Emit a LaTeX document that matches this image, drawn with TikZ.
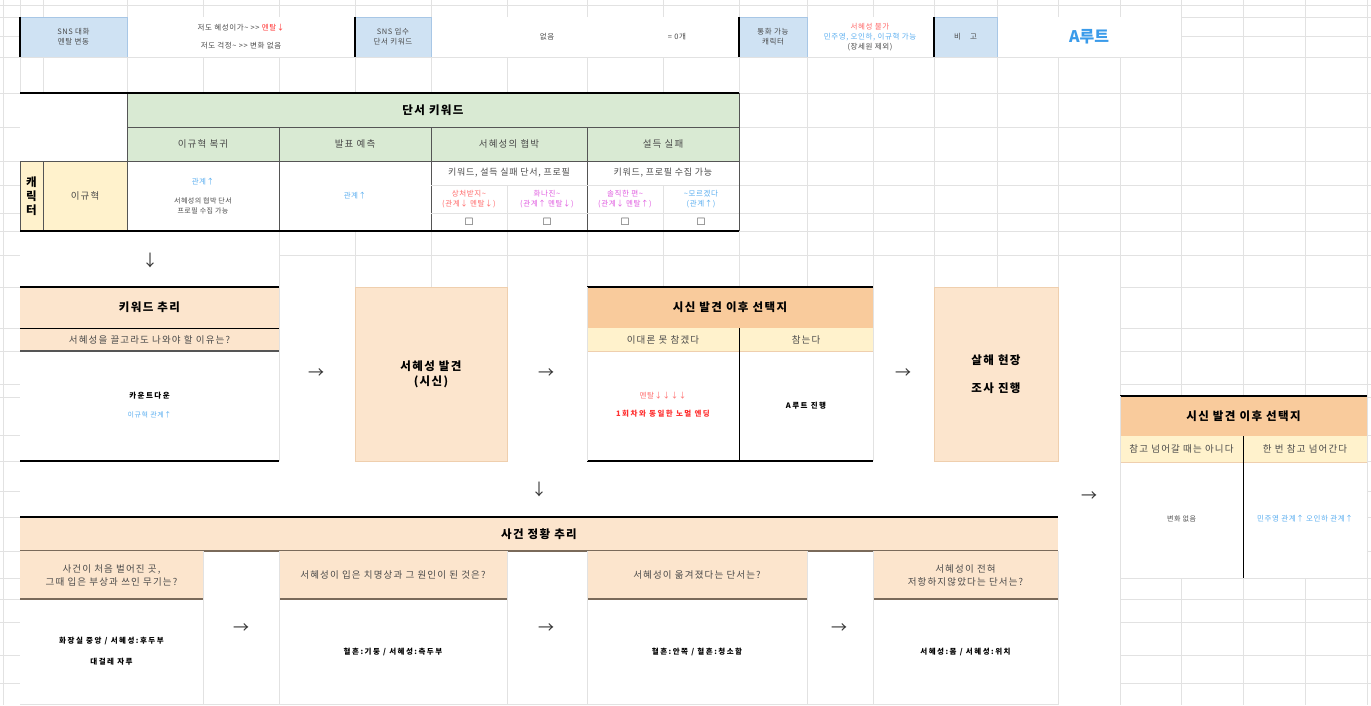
\documentclass[tikz,border=0pt]{standalone}
\usepackage{fontspec}
\setmainfont{Noto Sans CJK KR}
\newfontfamily\symfont{DejaVu Sans}
\definecolor{gridgray}{HTML}{E2E2E2}
\definecolor{hdrblue}{HTML}{CFE2F3}
\definecolor{hdrline}{HTML}{A8C7E6}
\definecolor{leafgreen}{HTML}{D9EAD3}
\definecolor{peach}{HTML}{FCE5CD}
\definecolor{peachline}{HTML}{EFCFAE}
\definecolor{apricot}{HTML}{F9CB9C}
\definecolor{lemon}{HTML}{FFF2CC}
\definecolor{rulegray}{HTML}{555555}
\definecolor{brownrule}{HTML}{7A6A5A}
\definecolor{txtgray}{HTML}{4A4A4A}
\definecolor{relblue}{HTML}{5AAEF0}
\definecolor{routeblue}{HTML}{3A9BEA}
\definecolor{mred}{HTML}{FF3030}
\definecolor{softred}{HTML}{FF6A6A}
\definecolor{pinkish}{HTML}{E05CE0}
\definecolor{arrowgray}{HTML}{333333}
\usetikzlibrary{positioning}

\begin{document}
\begin{tikzpicture}[x=1pt,y=-1pt,
	gridline/.style={draw=gridgray,line width=0.6pt},
	boldrule/.style={draw=black,line width=1.6pt},
	darkrule/.style={draw=rulegray,line width=1pt},
	small/.style={align=center,inner sep=1pt,font=\fontsize{7.5}{10}\selectfont\addfontfeature{LetterSpace=8},text=txtgray},
	mid/.style={align=center,inner sep=1pt,font=\fontsize{9.5}{13}\selectfont\addfontfeature{LetterSpace=12},text=txtgray},
	head/.style={align=center,inner sep=1pt,font=\fontsize{11.5}{15}\selectfont\bfseries\addfontfeature{LetterSpace=12}},
	answer/.style={align=center,inner sep=1pt,font=\fontsize{7.5}{10}\selectfont\bfseries\addfontfeature{LetterSpace=20}},
	flow/.style={inner sep=0pt,font=\fontsize{16}{16}\selectfont,text=arrowgray}]
	\useasboundingbox (0,0) rectangle (1371,705);
	\fill[white] (0,0) rectangle (1371,705);
	\foreach \x in {3,20,43,127,203,279,355,431,507,587,663,739,807,873,934,997,1058,1120,1181,1243,1305,1367}
		\draw[gridline] (\x,0) -- (\x,705);
	\foreach \y in {5,17,36,57,93,127,161,185,213,231,255,287,328,351,384,397,435,461,491,517,551,578,599,622,655,683}
		\draw[gridline] (0,\y) -- (1371,\y);
	
	\fill[white] (20,17) rectangle (1181,57);
	\fill[white] (20,93) rectangle (739,231);
	\fill[white] (20,231) rectangle (279,287);
	\fill[white] (20,287) rectangle (1120,705);
	\fill[white] (1120,396) rectangle (1367,578);
	
	% top strip
	\foreach \a/\b in {20/127,355/431,739/807,934/997}{
		\filldraw[fill=hdrblue,draw=hdrline] (\a,17) rectangle (\b,57);
		\draw[draw=black,line width=1.5pt] (\a,17) -- (\a,57);
	}
	\draw[gridline] (20,57) -- (1181,57);
	\node[small] (snsmood) at (73.5,37) {SNS 대화\\멘탈 변동};
	\node[small] (moodA) at (241,28) {저도 혜성이가\textasciitilde{} >{}> \textcolor{mred}{멘탈↓}};
	\node[small] (moodB) at (241,46) {저도 걱정\textasciitilde{} >{}> 변화 없음};
	\node[small] (snskey) at (393,37) {SNS 입수\\단서 키워드};
	\node[small] (keynone) at (547,37) {없음};
	\node[small] (keycount) at (677,37) {= 0개};
	\node[small] (callchar) at (773,37) {통화 가능\\캐릭터};
	\node[small] (calltxt) at (870,37) {\textcolor{softred}{서혜성 불가}\\\textcolor{relblue}{민주영, 오인하, 이규혁 가능}\\(장세원 제외)};
	\node[small] (memo) at (965.5,37) {비\hspace{1.2em}고};
	\node[inner sep=0pt,text=routeblue,font=\fontsize{16}{16}\selectfont\bfseries] (route) at (1089,37) {A루트};
	
	% keyword table
	\fill[leafgreen] (127,93) rectangle (739,161);
	\fill[lemon] (20,161) rectangle (127,231);
	\draw[darkrule] (127,127) -- (739,127);
	\draw[darkrule] (20,161) -- (739,161);
	\draw[darkrule] (127,93) -- (127,231);
	\foreach \x in {279,431,587}
		\draw[darkrule] (\x,127) -- (\x,231);
	\draw[darkrule] (739,93) -- (739,231);
	\draw[darkrule] (43,161) -- (43,231);
	\draw[darkrule] (20,161) -- (20,231);
	\draw[gridline] (431,185) -- (739,185);
	\draw[gridline] (431,213) -- (739,213);
	\draw[gridline] (507,185) -- (507,231);
	\draw[gridline] (663,185) -- (663,231);
	\draw[boldrule] (20,93) -- (739,93);
	\draw[boldrule] (20,231) -- (739,231);
	\node[head] (kwtitle) at (433,110) {단서 키워드};
	\node[mid] (colA) at (203,144) {이규혁 복귀};
	\node[mid] (colB) at (355,144) {발표 예측};
	\node[mid] (colC) at (509,144) {서혜성의 협박};
	\node[mid] (colD) at (663,144) {설득 실패};
	\node[head,font=\fontsize{11.5}{14}\selectfont\bfseries] (charlbl) at (31.5,196) {캐\\릭\\터};
	\node[mid] (charname) at (85,196) {이규혁};
	\node[small,text=relblue] (cellA) at (203,182) {관계↑};
	\node[small,font=\fontsize{7}{10}\selectfont\addfontfeature{LetterSpace=6}] (cellAnote) at (203,206) {서혜성의 협박 단서\\프로필 수집 가능};
	\node[small,text=relblue] (cellB) at (355,196) {관계↑};
	\node[mid,font=\fontsize{9}{12}\selectfont\addfontfeature{LetterSpace=8}] (cellC) at (509,173) {키워드, 설득 실패 단서, 프로필};
	\node[mid,font=\fontsize{9}{12}\selectfont\addfontfeature{LetterSpace=8}] (cellD) at (663,173) {키워드, 프로필 수집 가능};
	\node[small,text=softred] (optC1) at (469,199) {상처받지\textasciitilde\\(관계↓ 멘탈↓)};
	\node[small,text=pinkish] (optC2) at (547,199) {화나진\textasciitilde\\(관계↑ 멘탈↓)};
	\node[small,text=pinkish] (optD1) at (625,199) {솔직한 편\textasciitilde\\(관계↓ 멘탈↑)};
	\node[small,text=relblue] (optD2) at (701,199) {\textasciitilde 모르겠다\\(관계↑)};
	\foreach \x [count=\i] in {469,547,625,701}
		\node[inner sep=0pt,text=txtgray,font=\symfont\fontsize{10}{10}\selectfont] (chk\i) at (\x,222) {☐};
	\node[flow] (down1) at (150,260) {↓};
	
	% middle row
	\fill[peach] (20,287) rectangle (279,351);
	\draw[boldrule] (20,287) -- (279,287);
	\draw[draw=black,line width=0.8pt] (20,328) -- (279,328);
	\draw[draw=rulegray,line width=1.2pt] (20,351) -- (279,351);
	\draw[boldrule] (20,461) -- (279,461);
	\filldraw[fill=peach,draw=peachline] (355,287) rectangle (507,461);
	\fill[apricot] (587,287) rectangle (873,328);
	\fill[lemon] (587,328) rectangle (873,351);
	\draw[draw=peachline] (587,351) -- (873,351);
	\draw[boldrule] (587,287) -- (873,287);
	\draw[boldrule] (587,461) -- (873,461);
	\draw[draw=black,line width=1pt] (739,328) -- (739,461);
	\filldraw[fill=peach,draw=peachline] (934,287) rectangle (1058,461);
	\foreach \x in {279,587,873}
		\draw[gridline] (\x,287) -- (\x,461);
	\node[head] (reasonhd) at (149.5,307.5) {키워드 추리};
	\node[mid] (reasonq) at (149.5,339.5) {서혜성을 끌고라도 나와야 할 이유는?};
	\node[answer] (reasonans) at (149.5,396) {카운트다운};
	\node[small,text=relblue,font=\fontsize{7}{9}\selectfont\addfontfeature{LetterSpace=8}] (reasonrel) at (149.5,415) {이규혁 관계↑};
	\node[flow] (toA) at (316,374) {→};
	\node[head] (found) at (431,374) {서혜성 발견\\(시신)};
	\node[flow] (toB) at (546,374) {→};
	\node[head] (choicehd) at (730,307.5) {시신 발견 이후 선택지};
	\node[mid] (choiceA) at (663,339.5) {이대론 못 참겠다};
	\node[mid] (choiceB) at (806,339.5) {참는다};
	\node[small,text=softred] (endA1) at (663,396) {멘탈↓↓↓↓};
	\node[answer,text=mred] (endA2) at (663,414) {1회차와 동일한 노멀 엔딩};
	\node[answer] (endB) at (806,406) {A루트 진행};
	\node[flow] (toC) at (903,374) {→};
	\node[head,font=\fontsize{11.5}{28}\selectfont\bfseries\addfontfeature{LetterSpace=12}] (scene) at (996,374) {살해 현장\\조사 진행};
	\node[flow] (down2) at (539,489) {↓};
	\node[flow] (toD) at (1089,497) {→};
	
	% right branch
	\fill[apricot] (1120,396) rectangle (1367,436);
	\fill[lemon] (1120,436) rectangle (1367,462);
	\draw[draw=peachline] (1120,462) -- (1367,462);
	\draw[boldrule] (1120,396) -- (1367,396);
	\draw[draw=black,line width=1pt] (1243,436) -- (1243,578);
	\draw[gridline] (1120,396) -- (1120,578) -- (1367,578);
	\node[head] (choice2hd) at (1243.5,416) {시신 발견 이후 선택지};
	\node[mid] (choice2A) at (1181.5,449) {참고 넘어갈 때는 아니다};
	\node[mid] (choice2B) at (1305,449) {한 번 참고 넘어간다};
	\node[small,font=\fontsize{7}{9}\selectfont\addfontfeature{LetterSpace=8}] (res2A) at (1181.5,519) {변화 없음};
	\node[small,text=relblue] (res2B) at (1305,519) {민주영 관계↑ 오인하 관계↑};
	
	% case reasoning
	\fill[peach] (20,517) rectangle (1058,551);
	\draw[boldrule] (20,517) -- (1058,517);
	\draw[draw=brownrule,line width=1.2pt] (20,551) -- (1058,551);
	\foreach \a/\b in {20/203,279/507,587/807,873/1058}{
		\fill[peach] (\a,551) rectangle (\b,599);
		\draw[draw=brownrule,line width=1.2pt] (\a,599) -- (\b,599);
	}
	\foreach \x in {203,279,507,587,807,873,1058}
		\draw[gridline] (\x,551) -- (\x,705);
	\draw[gridline] (20,704) -- (1058,704);
	\node[head] (casehd) at (539,534) {사건 정황 추리};
	\node[mid] (q1) at (111.5,575) {사건이 처음 벌어진 곳,\\그때 입은 부상과 쓰인 무기는?};
	\node[mid] (q2) at (393,575) {서혜성이 입은 치명상과 그 원인이 된 것은?};
	\node[mid] (q3) at (697,575) {서혜성이 옮겨졌다는 단서는?};
	\node[mid] (q4) at (965.5,575) {서혜성이 전혀\\저항하지않았다는 단서는?};
	\node[answer] (a1) at (111.5,641) {화장실 중앙 / 서혜성:후두부};
	\node[answer] (a1b) at (111.5,662) {대걸레 자루};
	\node[answer] (a2) at (393,652) {혈흔:기둥 / 서혜성:측두부};
	\node[answer] (a3) at (697,652) {혈흔:안쪽 / 혈흔:청소함};
	\node[answer] (a4) at (965.5,652) {서혜성:몸 / 서혜성:위치};
	\node[flow] (toE) at (241,629) {→};
	\node[flow] (toF) at (546,629) {→};
	\node[flow] (toG) at (839,629) {→};
\end{tikzpicture}
\end{document}
